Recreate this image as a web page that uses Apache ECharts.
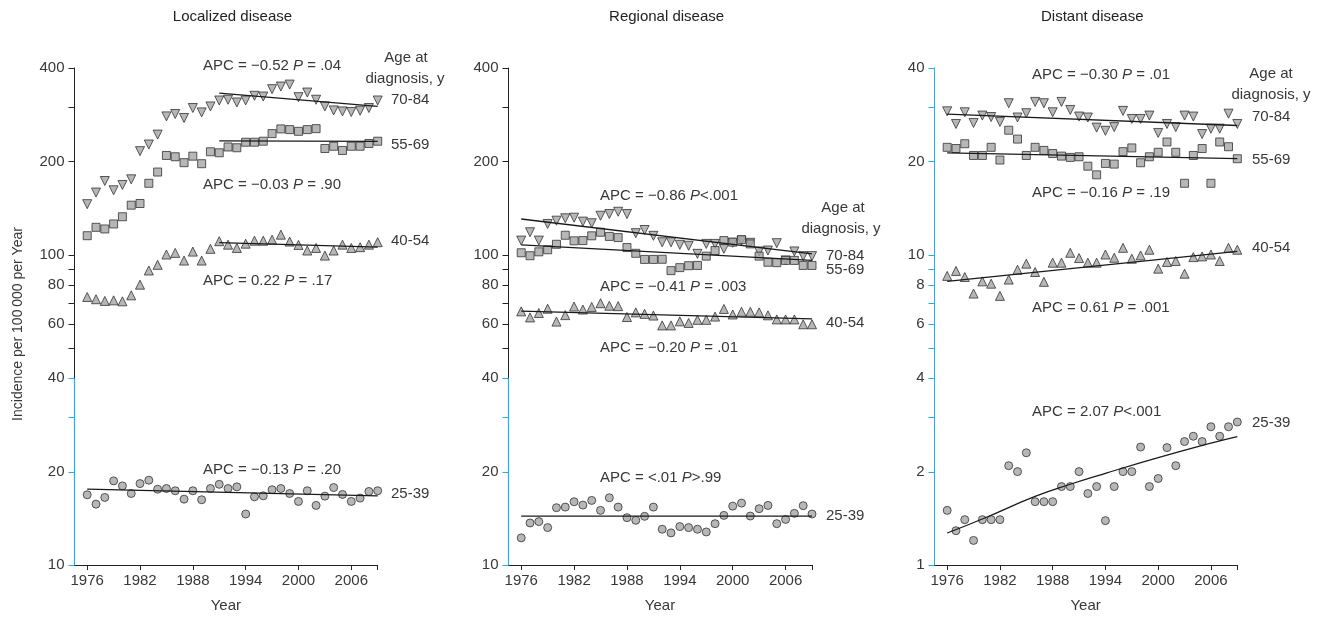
<!DOCTYPE html>
<html><head><meta charset="utf-8">
<script src="https://cdn.jsdelivr.net/npm/echarts@6/dist/echarts.min.js"></script>
<style>html,body{margin:0;padding:0;background:#fff}#c{width:1324px;height:618px}</style>
</head><body><div id="c"></div>
<script>
// ---------------- DATA ----------------
const years = [1976,1977,1978,1979,1980,1981,1982,1983,1984,1985,1986,1987,1988,1989,1990,1991,1992,1993,1994,1995,1996,1997,1998,1999,2000,2001,2002,2003,2004,2005,2006,2007,2008,2009];
const panelTitles = ['Localized disease', 'Regional disease', 'Distant disease'];
const ageGroups = ['70-84', '55-69', '40-54', '25-39'];
const legendTitle = ['Age at', 'diagnosis, y'];
const xTickValues = [1976, 1982, 1988, 1994, 2000, 2006, 2009];
const xLabelValues = [1976, 1982, 1988, 1994, 2000, 2006];
const yTicksHigh = [10, 20, 30, 40, 50, 60, 70, 80, 90, 100, 200, 300, 400];
const yLabelsHigh = [10, 20, 40, 60, 80, 100, 200, 400];
const yTicksLow = [1, 2, 3, 4, 5, 6, 7, 8, 9, 10, 20, 30, 40];
const yLabelsLow = [1, 2, 4, 6, 8, 10, 20, 40];
const yAxisName = 'Incidence per 100\u2009000 per Year';
const xAxisName = 'Year';

// Localized disease
const loc70 = [145.6,158.7,172.9,161.4,167.9,175.1,215.8,226.7,244.0,279.3,284.3,276.0,297.2,287.7,300.7,314.3,316.0,309.7,314.3,325.4,323.7,341.9,348.5,353.7,322.2,333.4,316.0,300.7,292.0,289.8,288.5,291.3,297.2,314.3];
const loc55 = [115.2,122.6,121.1,125.7,132.6,144.5,146.3,170.0,184.8,209.0,207.0,198.1,207.9,196.6,214.8,213.2,222.6,221.3,230.6,230.6,232.3,245.8,254.5,253.2,250.0,253.2,255.0,220.1,223.8,216.9,223.8,223.8,228.4,232.3];
const loc40 = [73.1,71.9,71.0,71.3,70.8,74.0,80.1,89.0,92.8,100.2,101.4,95.8,102.4,95.8,104.5,110.6,107.8,105.2,108.6,111.0,111.0,111.9,116.1,110.3,107.6,103.2,105.2,99.4,103.2,107.8,105.2,105.8,107.8,109.8];
const loc25 = [16.84,15.71,16.51,18.67,17.99,17.00,18.30,18.76,17.55,17.64,17.35,16.30,17.35,16.23,17.64,18.20,17.64,17.86,14.60,16.59,16.71,17.48,17.64,17.00,16.03,17.35,15.56,16.67,17.77,16.88,16.03,16.43,17.26,17.35];
const locTrend70 = [[1991, 332], [2009, 301]];
const locTrend55 = [[1991, 233], [2009, 232]];
const locTrend40 = [[1991, 109.5], [2009, 105.8]];
const locTrend25 = [[1976, 17.55], [2009, 16.7]];
const locApc = [['\u22120.52', '=', '.04'], ['\u22120.03', '=', '.90'], ['0.22', '=', '.17'], ['\u22120.13', '=', '.20']];

// Regional disease
const reg70 = [111.1,118.2,111.1,125.7,128.8,131.1,131.7,127.9,126.4,133.6,135.3,137.6,135.3,117.4,120.2,115.1,109.7,109.7,107.7,106.9,100.7,108.4,108.4,104.5,109.3,111.1,109.3,102.5,103.2,109.0,95.9,102.5,99.0,99.0];
const reg55 = [101.5,99.3,102.2,103.8,108.1,115.6,110.9,111.1,115.1,118.2,114.6,113.6,105.5,101.1,96.6,96.6,96.7,88.9,90.9,92.2,92.4,99.0,103.2,111.1,109.8,111.9,108.4,99.0,94.6,94.3,95.9,95.9,92.4,92.4];
const reg40 = [65.7,62.8,64.9,67.0,60.9,63.9,68.1,66.6,67.9,69.8,68.5,68.3,63.0,65.2,64.5,63.7,59.2,59.2,61.0,60.3,61.7,61.7,63.2,66.9,64.2,65.5,65.5,65.2,63.8,61.9,61.9,61.9,59.7,59.7];
const reg25 = [12.23,13.66,13.80,13.20,15.30,15.37,15.99,15.60,16.15,15.00,16.47,15.37,14.21,13.93,14.35,15.37,13.04,12.69,13.30,13.20,13.04,12.78,13.59,14.45,15.48,15.83,14.38,15.19,15.56,13.59,14.03,14.67,15.53,14.60];
const regTrend70 = [[1976, 130.4], [2009, 100.7]];
const regTrend55 = [[1976, 107.7], [2009, 95.9]];
const regTrend40 = [[1976, 65.8], [2009, 62.1]];
const regTrend25 = [[1976, 14.38], [2009, 14.38]];
const regApc = [['\u22120.86', '<', '.001'], ['\u22120.41', '=', '.003'], ['\u22120.20', '=', '.01'], ['<.01', '>', '.99']];

// Distant disease
const dis70 = [29.0,26.4,28.8,26.6,28.1,27.8,26.8,30.8,27.7,28.6,31.1,30.8,28.8,31.1,29.3,27.9,27.7,25.7,25.1,25.8,29.1,27.4,27.4,28.1,24.7,26.4,25.8,28.1,27.9,24.5,25.5,25.5,28.5,26.4];
const dis55 = [22.2,22.0,22.8,20.9,20.9,22.2,20.2,25.2,23.6,20.9,22.2,21.7,21.2,20.8,20.6,20.7,19.3,18.1,19.7,19.6,21.5,22.1,19.8,20.7,21.4,23.1,21.4,17.0,20.9,22.0,17.0,23.1,22.3,20.4];
const dis40 = [8.55,8.87,8.48,7.50,8.21,8.07,7.37,8.32,8.95,9.36,8.80,8.18,9.43,9.43,10.15,9.76,9.43,9.43,10.02,9.78,10.53,9.71,9.95,10.38,9.02,9.48,9.55,8.69,9.83,9.88,10.02,9.55,10.53,10.38];
const dis25 = [1.50,1.29,1.40,1.20,1.40,1.40,1.40,2.09,2.00,2.30,1.60,1.60,1.60,1.79,1.79,2.00,1.70,1.79,1.39,1.79,2.00,2.00,2.40,1.79,1.90,2.39,2.09,2.50,2.60,2.50,2.79,2.60,2.79,2.89];
const disTrend70 = [[1976, 28.4], [2009, 26.1]];
const disTrend55 = [[1976, 21.3], [2009, 20.4]];
const disTrend40 = [[1976, 8.21], [2009, 10.25]];
const disTrend25 = [[1976, 1.268], [1980, 1.407], [1986, 1.663], [1990, 1.821], [1994, 1.975], [2000, 2.218], [2006, 2.472], [2009, 2.595]];
const disApc = [['\u22120.30', '=', '.01'], ['\u22120.16', '=', '.19'], ['0.61', '=', '.001'], ['2.07', '<', '.001']];

// ---------------- LAYOUT / STYLE ----------------
const FONT = '"Liberation Sans", Arial, Helvetica, sans-serif';
const TXT = '#383838';
const CYAN = '#1ab2ea';
const BLACK = '#222';
const X_MIN = 1974.5, X_MAX = 2009;
const GRID_TOP = 68, GRID_H = 500;

const panels = [
  { left: 74, width: 303.7, vals: [loc70, loc55, loc40, loc25], trends: [locTrend70, locTrend55, locTrend40, locTrend25],
    ymin: 10, ymax: 400, ticks: yTicksHigh, labels: yLabelsHigh, cyanAll: false, apc: locApc,
    apcPos: [[203, 66], [203, 185], [203, 281], [203, 470]], agePos: [[391, 100], [391, 145], [391, 241], [391, 494]],
    legendPos: [[406, 58], [405, 79]] },
  { left: 508, width: 304, vals: [reg70, reg55, reg40, reg25], trends: [regTrend70, regTrend55, regTrend40, regTrend25],
    ymin: 10, ymax: 400, ticks: yTicksHigh, labels: yLabelsHigh, cyanAll: false, apc: regApc,
    apcPos: [[600, 196], [600, 287], [600, 348], [600, 478]], agePos: [[826, 256], [826, 270], [826, 323], [826, 516]],
    legendPos: [[843, 208], [841, 229]] },
  { left: 934, width: 303.3, vals: [dis70, dis55, dis40, dis25], trends: [disTrend70, disTrend55, disTrend40, disTrend25],
    ymin: 1, ymax: 40, ticks: yTicksLow, labels: yLabelsLow, cyanAll: true, apc: disApc,
    apcPos: [[1032, 75], [1032, 193], [1032, 308], [1032, 412]], agePos: [[1252, 117], [1252, 160], [1252, 248], [1252, 423]],
    legendPos: [[1271, 74], [1271, 95]] }
];
const markers = [
  { symbol: 'triangle', rotate: 180, size: 9 },
  { symbol: 'rect', rotate: 0, size: 8 },
  { symbol: 'triangle', rotate: 0, size: 9 },
  { symbol: 'circle', rotate: 0, size: 8 }
];

const chart = echarts.init(document.getElementById('c'), null, { renderer: 'canvas' });

const grid = [], xAxis = [], yAxis = [], series = [];
panels.forEach((p, i) => {
  grid.push({ left: p.left, top: GRID_TOP, width: p.width, height: GRID_H, containLabel: false });
  xAxis.push({
    type: 'value', gridIndex: i, min: X_MIN, max: X_MAX,
    name: xAxisName, nameLocation: 'middle', nameGap: 33,
    nameTextStyle: { fontFamily: FONT, fontSize: 15, color: TXT },
    axisLine: { show: true, lineStyle: { color: BLACK, width: 1 } },
    axisTick: { show: true, length: 5, lineStyle: { color: BLACK }, customValues: xTickValues },
    axisLabel: { show: true, margin: 8, fontFamily: FONT, fontSize: 15, color: TXT, customValues: xLabelValues, formatter: v => String(v) },
    splitLine: { show: false }
  });
  yAxis.push({
    type: 'log', logBase: 10, gridIndex: i, min: p.ymin, max: p.ymax,
    axisLine: { show: true, lineStyle: { color: p.cyanAll ? CYAN : BLACK, width: 1 } },
    axisTick: { show: false }, axisLabel: { show: false }, splitLine: { show: false }, minorTick: { show: false }
  });
  p.vals.forEach((vals, k) => {
    const m = markers[k];
    series.push({
      type: 'scatter', xAxisIndex: i, yAxisIndex: i, name: panelTitles[i] + ' ' + ageGroups[k],
      data: years.map((yr, j) => [yr, vals[j]]),
      symbol: m.symbol, symbolRotate: m.rotate, symbolSize: m.size,
      itemStyle: { color: '#a5a5a5', borderColor: '#333', borderWidth: 1 }, z: 3
    });
  });
  p.trends.forEach((tr) => {
    series.push({
      type: 'line', xAxisIndex: i, yAxisIndex: i, data: tr, symbol: 'none', smooth: tr.length > 2,
      lineStyle: { color: '#1a1a1a', width: 1.3 }, z: 4, silent: true
    });
  });
});

chart.setOption({ animation: false, backgroundColor: '#fff', grid, xAxis, yAxis, series });

// ---------- decorations: log-axis ticks/labels, texts ----------
function txt(x, y, s, align, extra, size, color) {
  const fs = size || 15, col = color || TXT;
  return Object.assign({ type: 'text', x, y, silent: true, style: {
    text: s, fill: col, fontFamily: FONT, fontSize: fs, textAlign: align || 'left', textVerticalAlign: 'middle', verticalAlign: 'middle',
    rich: { i: { fontStyle: 'italic', fontFamily: FONT, fontSize: fs, fill: col } }
  } }, extra || {});
}
const graphic = [];
panels.forEach((p, gi) => {
  const px = v => chart.convertToPixel({ gridIndex: gi }, [X_MIN, v]);
  const x0 = Math.round(px(p.ymin)[0]) + 0.5;
  // panel title centred over the year range
  const cx = (chart.convertToPixel({ gridIndex: gi }, [years[0], p.ymin])[0] + chart.convertToPixel({ gridIndex: gi }, [X_MAX, p.ymin])[0]) / 2;
  graphic.push(txt(cx, 17, panelTitles[gi], 'center', null, 15, '#222'));
  if (!p.cyanAll) {
    const yA = px(p.ymin)[1], yB = px(40)[1];
    graphic.push({ type: 'line', silent: true, z: 100, shape: { x1: x0, y1: yA, x2: x0, y2: yB }, style: { stroke: CYAN, lineWidth: 1.2 } });
  }
  p.ticks.forEach(v => {
    const yy = Math.round(px(v)[1]) + 0.5;
    const col = (p.cyanAll || v <= 40) ? CYAN : BLACK;
    graphic.push({ type: 'line', silent: true, z: 100, shape: { x1: x0 - 6, y1: yy, x2: x0, y2: yy }, style: { stroke: col, lineWidth: 1 } });
  });
  p.labels.forEach(v => {
    graphic.push(txt(x0 - 10, px(v)[1], String(v), 'right'));
  });
  p.apc.forEach((a, k) => {
    const sep = a[1] === '=' ? ' = ' : a[1];
    graphic.push(txt(p.apcPos[k][0], p.apcPos[k][1], 'APC = ' + a[0] + ' {i|P}' + sep + a[2], 'left'));
  });
  ageGroups.forEach((g, k) => graphic.push(txt(p.agePos[k][0], p.agePos[k][1], g, 'left')));
  graphic.push(txt(p.legendPos[0][0], p.legendPos[0][1], legendTitle[0], 'center'));
  graphic.push(txt(p.legendPos[1][0], p.legendPos[1][1], legendTitle[1], 'center'));
});
graphic.push(txt(18, 324, yAxisName, 'center', { rotation: Math.PI / 2 }, 14));
chart.setOption({ graphic });
</script></body></html>
